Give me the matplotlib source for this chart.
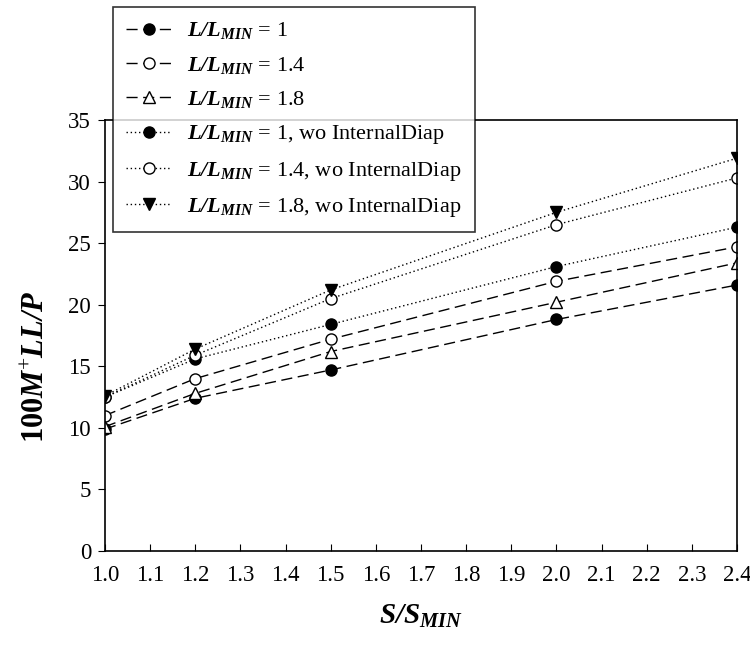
import matplotlib as mpl
import matplotlib.pyplot as plt
import numpy as np

mpl.use('Agg')

mpl.rc("font", family="Liberation Serif", size=16)
mpl.rcParams["mathtext.fontset"] = "custom"
mpl.rcParams["mathtext.rm"] = "Liberation Serif"
mpl.rcParams["mathtext.it"] = "Liberation Serif:italic"
mpl.rcParams["mathtext.bf"] = "Liberation Serif:bold"
mpl.rcParams["mathtext.bfit"] = "Liberation Serif:bold:italic"

sRatio = [1.0, 1.2, 1.5, 2.0, 2.4]

# with internal diaphragms
l1 = [9.9, 12.4, 14.7, 18.8, 21.6]
l14 = [11.0, 14.0, 17.2, 21.9, 24.7]
l18 = [10.1, 12.8, 16.2, 20.2, 23.4]
# without internal diaphragms
l1wo = [12.5, 15.6, 18.4, 23.1, 26.3]
l14wo = [12.5, 15.9, 20.5, 26.5, 30.3]
l18wo = [12.6, 16.4, 21.2, 27.5, 31.9]

lab = r"$\mathbfit{L/L}_{\mathbfit{MIN}}$"
dash = (0, (8, 4))
dot = (0, (1, 2))
series = [
    (l1, "o", "black", dash, lab + " = 1"),
    (l14, "o", "white", dash, lab + " = 1.4"),
    (l18, "^", "white", dash, lab + " = 1.8"),
    (l1wo, "o", "black", dot, lab + " = 1, wo InternalDiap"),
    (l14wo, "o", "white", dot, lab + " = 1.4, wo InternalDiap"),
    (l18wo, "v", "black", dot, lab + " = 1.8, wo InternalDiap"),
]

fig = plt.figure(figsize=(7.5, 6.48), dpi=100)
ax = fig.add_axes([0.14, 0.1497, 0.8427, 0.6651])

for vals, mk, fc, ls, name in series:
    ax.plot(sRatio, vals, color="black", linestyle=ls, linewidth=1,
            marker=mk, markersize=8, markerfacecolor=fc,
            markeredgecolor="black", markeredgewidth=1, label=name)

ax.set_xlim(1.0, 2.4)
ax.set_ylim(0, 35)
ax.set_xticks(np.round(np.arange(1.0, 2.41, 0.1), 1))
ax.set_xticklabels([f"{v:.1f}" for v in np.arange(1.0, 2.41, 0.1)])
ax.set_yticks(range(0, 36, 5))
ax.tick_params(axis="x", direction="in", length=5, labelsize=16.5, pad=10)
ax.tick_params(axis="y", direction="out", length=5, labelsize=16.5, pad=5)
for sp in ax.spines.values():
    sp.set_linewidth(1.2)

ax.set_xlabel(r"$\mathbfit{S/S}_{\mathbfit{MIN}}$", fontsize=21, labelpad=12)
ax.set_ylabel(r"$\mathbf{100}\mathbfit{M}^{+}\mathbfit{LL/P}$", fontsize=22)
ax.yaxis.set_label_coords(-0.086, 0.427)

leg = fig.legend(loc="upper left", bbox_to_anchor=(113 / 750, 1 - 7 / 648),
                 fontsize=16, frameon=True, fancybox=False, edgecolor="black",
                 handlelength=2.0, handletextpad=0.75, labelspacing=0.6,
                 borderpad=0.6, borderaxespad=0)
leg.get_frame().set_linewidth(1.2)

plt.savefig("out.png", dpi=100)
